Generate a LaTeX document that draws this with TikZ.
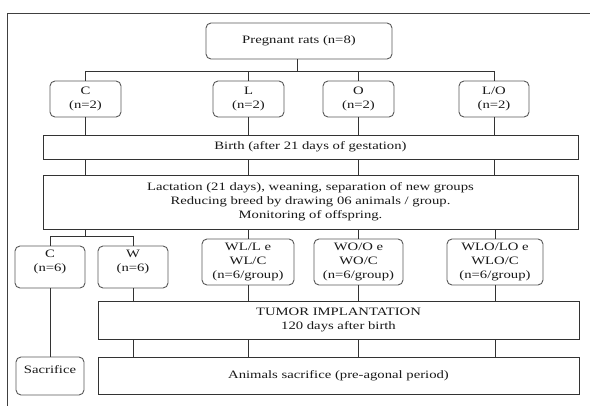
\documentclass[tikz,border=0pt]{standalone}
\usepackage{fontspec}
\setmainfont[FakeStretch=1.3]{Liberation Serif}
\begin{document}
\begin{tikzpicture}[x=1pt,y=-1pt,
  every node/.style={font=\fontsize{11.3}{14}\selectfont, text=black!90, align=center, inner sep=0pt},
  rbox/.style={draw=black!65, line width=0.9pt, rounded corners=5pt},
  sbox/.style={draw=black!80, line width=0.9pt},
  conn/.style={draw=black!80, line width=0.9pt}]
\useasboundingbox (0,0) rectangle (590,406);
\fill[white] (0,0) rectangle (590,406);
\draw[black!75, line width=0.9pt] (590,13) -- (7,13) -- (7,406);
% top
\node[rbox, minimum width=186pt, minimum height=36pt] (preg) at (299,41) {Pregnant rats (n=8)};
\node[rbox, minimum width=71pt, minimum height=36pt] (c) at (85.5,99) {C\\(n=2)};
\node[rbox, minimum width=71pt, minimum height=36pt] (l) at (248.5,99) {L\\(n=2)};
\node[rbox, minimum width=71pt, minimum height=36pt] (o) at (358.5,99) {O\\(n=2)};
\node[rbox, minimum width=70pt, minimum height=36pt] (lo) at (494,99) {L/O\\(n=2)};
\node[sbox, minimum width=535pt, minimum height=24pt] (birth) at (310.5,147) {Birth (after 21 days of gestation)};
\node[sbox, minimum width=535pt, minimum height=54pt] (lact) at (310.5,202) {Lactation (21 days), weaning, separation of new groups\\Reducing breed by drawing 06 animals / group.\\Monitoring of offspring.};
\node[rbox, minimum width=70pt, minimum height=42pt] (cs) at (50,267) {};
\node (cst) at (50,262) {C\\(n=6)};
\node[rbox, minimum width=70pt, minimum height=42pt] (w) at (133,267) {};
\node (wt) at (133,262) {W\\(n=6)};
\node[rbox, minimum width=92pt, minimum height=46pt] (wl) at (248,262) {WL/L e\\WL/C\\(n=6/group)};
\node[rbox, minimum width=89pt, minimum height=46pt] (wo) at (358.5,262) {WO/O e\\WO/C\\(n=6/group)};
\node[rbox, minimum width=96pt, minimum height=46pt] (wlo) at (495,262) {WLO/LO e\\WLO/C\\(n=6/group)};
\node[sbox, minimum width=481pt, minimum height=38pt] (tumor) at (338.5,320) {TUMOR IMPLANTATION\\120 days after birth};
\node[sbox, minimum width=481pt, minimum height=37pt] (anim) at (338.5,375.5) {Animals sacrifice (pre-agonal period)};
\node[rbox, minimum width=68pt, minimum height=38pt] (sac) at (50,376) {};
\node (sact) at (50,370) {Sacrifice};
% connectors
\coordinate (bus1) at (297,71);
\coordinate (bus2) at (85,236);
\draw[conn] (preg.south -| bus1) -- (bus1);
\draw[conn] (c.north) -- (c.north |- bus1) -- (lo.north |- bus1) -- (lo.north);
\draw[conn] (l.north) -- (l.north |- bus1);
\draw[conn] (o.north) -- (o.north |- bus1);
\foreach \n in {c,l,o,lo}{
  \draw[conn] (\n.south) -- (\n.south |- birth.north);
  \draw[conn] (\n.south |- birth.south) -- (\n.south |- lact.north);
}
\draw[conn] (bus2 |- lact.south) -- (bus2);
\draw[conn] (cs.north) -- (cs.north |- bus2) -- (w.north |- bus2) -- (w.north);
\foreach \n in {wl,wo,wlo}{
  \draw[conn] (\n.north |- lact.south) -- (\n.north);
}
\foreach \n in {w,wl,wo,wlo}{
  \draw[conn] (\n.south) -- (\n.south |- tumor.north);
  \draw[conn] (\n.south |- tumor.south) -- (\n.south |- anim.north);
}
\draw[conn] (cs.south) -- (sac.north);
\end{tikzpicture}
\end{document}
